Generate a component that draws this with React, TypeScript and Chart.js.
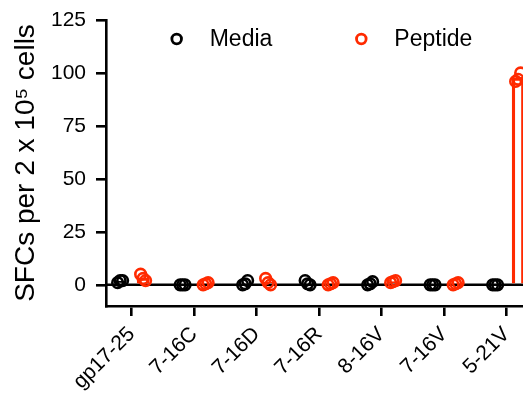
import { useEffect, useRef } from 'react';
import { Chart, registerables } from 'chart.js';

Chart.register(...registerables);

const categories = ['gp17-25', '7-16C', '7-16D', '7-16R', '8-16V', '7-16V', '5-21V'];
const seriesNames = ['Media', 'Peptide'];
const mediaValues = [
  [1, 2, 2],
  [0, 0, 0],
  [0, 0.5, 2],
  [2, 0.5, 0],
  [0, 0.5, 1.5],
  [0, 0, 0],
  [0, 0, 0],
];
const peptideValues = [
  [5, 3, 2],
  [0, 0.5, 1],
  [3, 1, 0],
  [0, 0.5, 1],
  [1, 1.5, 2],
  [0, 0.5, 1],
  [96, 97, 100],
];
const yTicks = [0, 25, 50, 75, 100, 125];

const FONT = '"Liberation Sans", Arial, Helvetica, sans-serif';
const BLACK = '#000000';
const RED = '#ff2a00';
const GROUP_OFFSET = 0.184;
const JITTER = 0.04;
const X_MIN = -0.41;
const X_MAX = 6.39;

const mean = (a: number[]) => a.reduce((s, v) => s + v, 0) / a.length;

const pointsFor = (values: number[][], side: number) =>
  values.flatMap((group, i) =>
    group.map((v, j) => ({ x: i + side * GROUP_OFFSET + (j - 1) * JITTER, y: v }))
  );

const barsFor = (values: number[][], side: number) =>
  values.map((group, i) => ({ x: i + side * GROUP_OFFSET, y: mean(group) }));

const legendPlugin = {
  id: 'topLegend',
  afterDraw(chart: any) {
    const { ctx, chartArea } = chart;
    const items = [
      { label: seriesNames[0], color: BLACK },
      { label: seriesNames[1], color: RED },
    ];
    ctx.save();
    ctx.font = `23px ${FONT}`;
    const circleGap = 33;
    const itemGap = 89;
    const widths = items.map((it) => ctx.measureText(it.label).width);
    const total = circleGap + widths[0] + itemGap + circleGap + widths[1];
    const cx = (chartArea.left + chartArea.right) / 2 + 6;
    let x = cx - total / 2;
    const y = chartArea.top + 19;
    items.forEach((it, k) => {
      ctx.beginPath();
      ctx.arc(x, y, 4.8, 0, Math.PI * 2);
      ctx.lineWidth = 2.8;
      ctx.strokeStyle = it.color;
      ctx.stroke();
      ctx.fillStyle = BLACK;
      ctx.textBaseline = 'middle';
      ctx.textAlign = 'left';
      ctx.fillText(it.label, x + circleGap, y + 1);
      x += circleGap + widths[k] + itemGap;
    });
    ctx.restore();
  },
};

export default function App() {
  const ref = useRef<HTMLCanvasElement | null>(null);

  useEffect(() => {
    document.documentElement.style.overflow = 'hidden';
    document.body.style.overflow = 'hidden';
    const canvas = ref.current;
    if (!canvas) return;
    const chart = new Chart(canvas, {
      type: 'scatter',
      data: {
        datasets: [
          {
            type: 'scatter',
            label: seriesNames[0],
            data: pointsFor(mediaValues, -1),
            borderColor: BLACK,
            backgroundColor: 'rgba(0,0,0,0)',
            pointRadius: 5.3,
            borderWidth: 2.6,
            order: 0,
          },
          {
            type: 'scatter',
            label: seriesNames[1],
            data: pointsFor(peptideValues, 1),
            borderColor: RED,
            backgroundColor: 'rgba(0,0,0,0)',
            pointRadius: 5.3,
            borderWidth: 2.6,
            order: 0,
          },
          {
            type: 'bar',
            label: seriesNames[0] + ' mean',
            data: barsFor(mediaValues, -1),
            borderColor: BLACK,
            backgroundColor: 'rgba(0,0,0,0)',
            borderWidth: 2.6,
            barThickness: 12,
            grouped: false,
            order: 1,
          } as any,
          {
            type: 'bar',
            label: seriesNames[1] + ' mean',
            data: barsFor(peptideValues, 1),
            borderColor: RED,
            backgroundColor: 'rgba(0,0,0,0)',
            borderWidth: 2.6,
            barThickness: 12,
            grouped: false,
            order: 1,
          } as any,
          {
            type: 'line',
            label: 'zero',
            data: [
              { x: X_MIN, y: 0 },
              { x: X_MAX, y: 0 },
            ],
            borderColor: BLACK,
            borderWidth: 2.6,
            pointRadius: 0,
            order: 2,
          },
        ],
      },
      options: {
        animation: false,
        responsive: false,
        devicePixelRatio: 1,
        events: [],
        layout: { autoPadding: false, padding: { top: 0, right: 0, left: 0, bottom: 0 } },
        plugins: {
          legend: { display: false },
          tooltip: { enabled: false },
        },
        scales: {
          x: {
            type: 'linear',
            offset: false,
            min: X_MIN,
            max: X_MAX,
            afterBuildTicks: (s: any) => {
              s.ticks = categories.map((_, i) => ({ value: i }));
            },
            afterFit: (s: any) => {
              s.height = 93;
              s.paddingLeft = 0;
              s.paddingRight = 0;
            },
            ticks: {
              callback: (v: any) => categories[v as number],
              minRotation: 45,
              maxRotation: 45,
              autoSkip: false,
              font: { family: FONT, size: 21 },
              color: BLACK,
              padding: 6,
            },
            grid: {
              offset: false,
              drawOnChartArea: false,
              drawTicks: true,
              tickLength: 10,
              color: BLACK,
              lineWidth: 2.6,
            },
            border: { display: true, color: BLACK, width: 2.6 },
          },
          y: {
            type: 'linear',
            min: -10,
            max: 125,
            afterBuildTicks: (s: any) => {
              s.ticks = yTicks.map((v) => ({ value: v }));
            },
            afterFit: (s: any) => {
              s.width = 98;
              s.paddingTop = 12;
              s.paddingBottom = 0;
            },
            ticks: { font: { family: FONT, size: 21 }, color: BLACK, padding: 10 },
            grid: {
              drawOnChartArea: false,
              drawTicks: true,
              tickLength: 10,
              color: BLACK,
              lineWidth: 2.6,
            },
            border: { display: true, color: BLACK, width: 2.6 },
            title: {
              display: true,
              text: 'SFCs per 2 x 10\u2075 cells',
              color: BLACK,
              font: { family: FONT, size: 28 },
              padding: { top: 1, bottom: 1 },
            },
          },
        },
      },
      plugins: [legendPlugin],
    } as any);
    return () => chart.destroy();
  }, []);

  return (
    <canvas
      ref={ref}
      width={523}
      height={391}
      style={{ display: 'block', width: '523px', height: '391px' }}
    />
  );
}
